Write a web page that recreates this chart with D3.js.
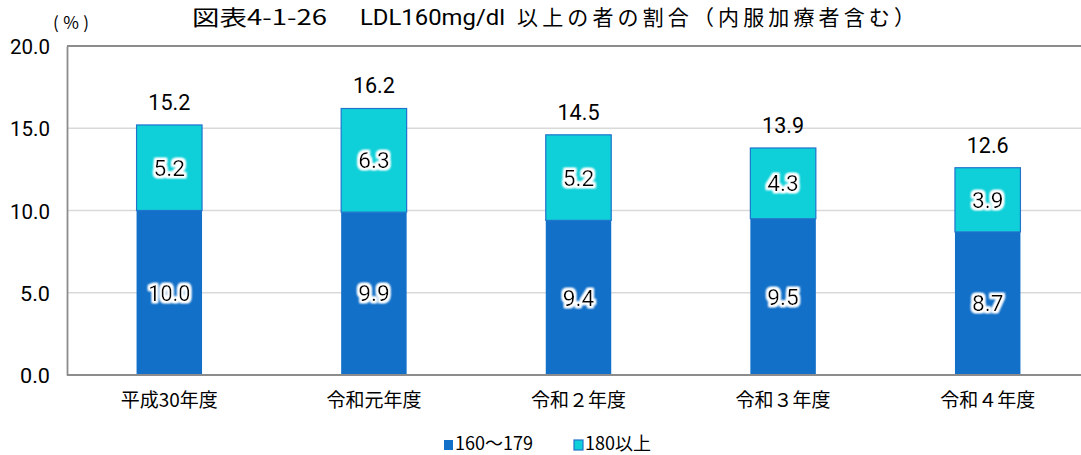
<!DOCTYPE html>
<html><head><meta charset="utf-8">
<script src="https://cdn.jsdelivr.net/npm/d3@7"></script>
<style>
body{margin:0;background:#fff;}
svg{display:block;}
.num{font-family:Roboto,"Liberation Sans",sans-serif;}
.jp{font-family:"Noto Sans CJK JP","Noto Sans",sans-serif;}
</style></head>
<body>
<svg id="c" width="1081" height="455"></svg>
<script>
const categories = ["平成30年度","令和元年度","令和２年度","令和３年度","令和４年度"];
const series160 = [10.0, 9.9, 9.4, 9.5, 8.7];
const series180 = [5.2, 6.3, 5.2, 4.3, 3.9];
const totals = [15.2, 16.2, 14.5, 13.9, 12.6];
const yTicks = [0, 5, 10, 15, 20];
const seriesNames = ["160～179", "180以上"];
const titleParts = ["図表4-1-26", "LDL160mg/dl", "以上の者の割合（内服加療者含む）"];

const svg = d3.select("#c");
const W = 1081, H = 455;
const m = {l:67, t:46, b:375, r:1090};

const defs = svg.append("defs");
const f = defs.append("filter").attr("id","glow").attr("x","-20%").attr("y","-30%").attr("width","140%").attr("height","160%");
f.append("feMorphology").attr("in","SourceAlpha").attr("operator","dilate").attr("radius",1.5).attr("result","d");
f.append("feGaussianBlur").attr("in","d").attr("stdDeviation",1.2).attr("result","b");
f.append("feFlood").attr("flood-color","#fff");
f.append("feComposite").attr("in2","b").attr("operator","in").attr("result","w");
const fm = f.append("feMerge");
fm.append("feMergeNode").attr("in","w");
fm.append("feMergeNode").attr("in","w");
fm.append("feMergeNode").attr("in","SourceGraphic");

const x = d3.scaleBand().domain(categories).range([m.l, m.r]).paddingInner(0.68).paddingOuter(0.34);
const y = d3.scaleLinear().domain([0,20]).range([m.b, m.t]);

function fit(sel, per){ sel.attr("textLength", function(){ return this.textContent.length*per; }).attr("lengthAdjust","spacingAndGlyphs"); }

// gridlines
svg.append("g").selectAll("line").data(yTicks.filter(d=>d>0 && d<20)).join("line")
  .attr("x1", m.l).attr("x2", W).attr("y1", d=>y(d)).attr("y2", d=>y(d))
  .attr("stroke","#d9d9d9").attr("stroke-width",1.5);
svg.append("line").attr("x1", m.l).attr("x2", W).attr("y1", y(20)).attr("y2", y(20))
  .attr("stroke","#8c8c8c").attr("stroke-width",1.8);

// y axis
const ya = d3.axisLeft(y).tickValues(yTicks).tickFormat(d3.format(".1f")).tickSize(0).tickPadding(17);
const yg = svg.append("g").attr("transform",`translate(${m.l},0)`).call(ya);
yg.select(".domain").attr("stroke","#8c8c8c").attr("stroke-width",1.8);
yg.selectAll("text").attr("class","num").attr("font-size",21).attr("fill","#000").attr("dy","0.36em").call(fit,10);

// bars
const g = svg.append("g");
g.selectAll(".b1").data(categories).join("rect")
  .attr("x", d=>x(d)).attr("width", x.bandwidth())
  .attr("y", (d,i)=>y(series160[i])).attr("height",(d,i)=>y(0)-y(series160[i]))
  .attr("fill","#1270c8");
g.selectAll(".b2").data(categories).join("rect")
  .attr("x", d=>x(d)).attr("width", x.bandwidth())
  .attr("y", (d,i)=>y(series160[i]+series180[i])).attr("height",(d,i)=>y(series160[i])-y(series160[i]+series180[i]))
  .attr("fill","#0fd0d8").attr("stroke","#1f74cc").attr("stroke-width",1.2);

// x axis
const xa = d3.axisBottom(x).tickSize(0).tickPadding(19);
const xg = svg.append("g").attr("transform",`translate(0,${m.b})`).call(xa);
xg.select(".domain").remove();
svg.append("line").attr("x1", m.l).attr("x2", W).attr("y1", m.b).attr("y2", m.b)
  .attr("stroke","#8c8c8c").attr("stroke-width",1.8);
xg.selectAll("text").attr("class","jp").attr("font-size",19).attr("fill","#000");

// segment labels
const lab = svg.append("g").attr("class","num").attr("font-size",22).attr("text-anchor","middle").attr("filter","url(#glow)");
lab.selectAll(".l1").data(categories).join("text")
  .attr("x", d=>x(d)+x.bandwidth()/2).attr("y",(d,i)=>y(series160[i]/2)).attr("dy","0.36em")
  .text((d,i)=>series160[i].toFixed(1)).call(fit,10.5);
lab.selectAll(".l2").data(categories).join("text")
  .attr("x", d=>x(d)+x.bandwidth()/2).attr("y",(d,i)=>y(series160[i]+series180[i]/2)).attr("dy","0.36em")
  .text((d,i)=>series180[i].toFixed(1)).call(fit,10.5);
// totals
svg.append("g").attr("class","num").attr("font-size",22).attr("text-anchor","middle")
  .selectAll("text").data(categories).join("text")
  .attr("x", d=>x(d)+x.bandwidth()/2).attr("y",(d,i)=>y(series160[i]+series180[i]) - 23).attr("dy","0.36em")
  .text((d,i)=>totals[i].toFixed(1)).call(fit,10.5);

// title (three runs)
const tX = [[192,327,"spacingAndGlyphs"],[360,505,"spacingAndGlyphs"],[517,915,"spacing"]];
titleParts.forEach((t,i)=>{
  svg.append("text").attr("class", i===1 ? "num" : "jp").attr("x",tX[i][0]).attr("y",25)
    .attr("font-size", i===1 ? 22 : 21).attr("textLength",tX[i][1]-tX[i][0]).attr("lengthAdjust",tX[i][2]).text(t);
});
svg.append("text").attr("class","jp").attr("x",71).attr("y",29).attr("text-anchor","middle")
  .attr("font-size",17).attr("textLength",36).attr("lengthAdjust","spacing").text("(%)");

// legend
const lg = svg.append("g").attr("class","jp").attr("font-size",18);
const legX = [444, 574];
const cols = ["#1270c8","#0fd0d8"];
seriesNames.forEach((n,i)=>{
  lg.append("rect").attr("x",legX[i]).attr("y",440).attr("width",9).attr("height",10)
    .attr("fill",cols[i]).attr("stroke", i===1?"#1f74cc":"none").attr("stroke-width",1.2);
  lg.append("text").attr("x",legX[i]+11).attr("y",450).text(n);
});
</script>
</body></html>
